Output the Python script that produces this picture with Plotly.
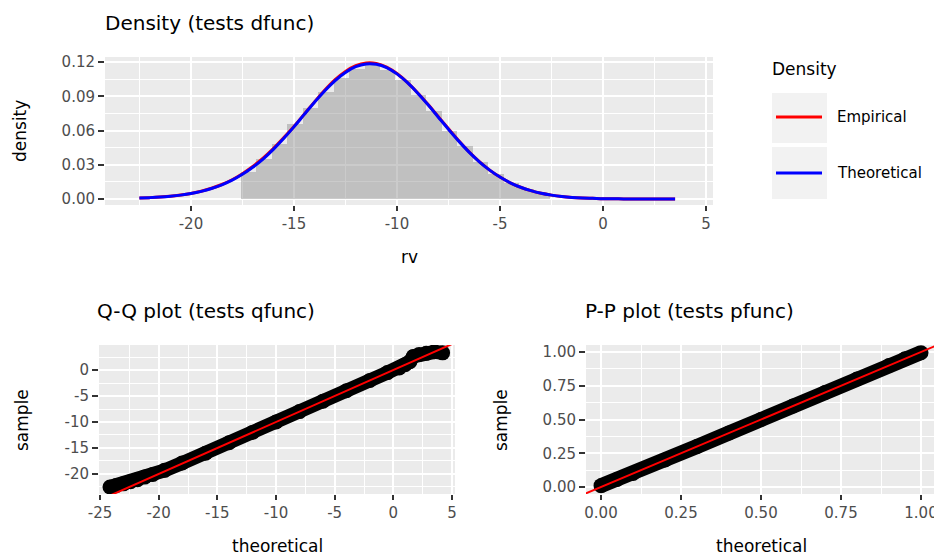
import plotly.graph_objects as go

# page body has an 8px margin: the figure is sized to fit the 942x560 window
OX, OY = 8, 8
W, H = 942 - OX, 560 - OY

# ---------------- data ----------------
# Density panel: curves sampled every 0.5 on rv
dens_x = [-22.5, -22.0, -21.5, -21.0, -20.5, -20.0, -19.5, -19.0, -18.5, -18.0,
          -17.5, -17.0, -16.5, -16.0, -15.5, -15.0, -14.5, -14.0, -13.5, -13.0,
          -12.5, -12.0, -11.5, -11.0, -10.5, -10.0, -9.5, -9.0, -8.5, -8.0,
          -7.5, -7.0, -6.5, -6.0, -5.5, -5.0, -4.5, -4.0, -3.5, -3.0,
          -2.5, -2.0, -1.5, -1.0, -0.5, 0.0, 0.5, 1.0, 1.5, 2.0, 2.5, 3.0, 3.5]
theoretical_density = [0.0008, 0.0012, 0.0017, 0.0024, 0.0034, 0.0048, 0.0067, 0.0092, 0.0124, 0.0165,
                       0.0216, 0.0278, 0.0350, 0.0435, 0.0530, 0.0632, 0.0741, 0.0848, 0.0949, 0.1038,
                       0.1109, 0.1159, 0.1183, 0.1180, 0.1151, 0.1096, 0.1021, 0.0929, 0.0827, 0.0719,
                       0.0611, 0.0507, 0.0411, 0.0326, 0.0253, 0.0192, 0.0142, 0.0103, 0.0073, 0.0050,
                       0.0034, 0.0022, 0.0014, 0.0009, 0.0006, 0.0003, 0.0002, 0.0001, 0.0001, 0.00005,
                       0.00003, 0.00002, 0.00001]
empirical_density = [0.0008, 0.0012, 0.0017, 0.0024, 0.0035, 0.0049, 0.0068, 0.0094, 0.0127, 0.0169,
                     0.0222, 0.0285, 0.0358, 0.0442, 0.0536, 0.0636, 0.0743, 0.0851, 0.0955, 0.1046,
                     0.1118, 0.1168, 0.1192, 0.1188, 0.1156, 0.1099, 0.1022, 0.0931, 0.0830, 0.0723,
                     0.0615, 0.0510, 0.0413, 0.0327, 0.0253, 0.0192, 0.0142, 0.0103, 0.0073, 0.0050,
                     0.0034, 0.0022, 0.0014, 0.0009, 0.0006, 0.0003, 0.0002, 0.0001, 0.0001, 0.00005,
                     0.00003, 0.00002, 0.00001]

# histogram bins (centres) and heights
hist_centres = [-17.2, -16.45, -15.7, -14.95, -14.2, -13.45, -12.7, -11.95, -11.2, -10.45,
                -9.7, -8.95, -8.2, -7.45, -6.7, -5.95, -5.2, -4.45, -3.7, -2.95]
hist_density = [0.024, 0.035, 0.048, 0.066, 0.080, 0.094, 0.106, 0.114, 0.117, 0.113,
                0.104, 0.091, 0.077, 0.060, 0.046, 0.032, 0.022, 0.014, 0.009, 0.005]
hist_binwidth = 0.75

# Q-Q panel
qq_theoretical = [-24.15, -23.6, -23.0, -22.4, -21.8, -21.2, -20.5, -19.5, -18.0, -16.0,
                  -14.0, -12.0, -10.0, -8.0, -6.0, -4.0, -2.0, -0.5, 0.5, 1.0,
                  1.4, 1.7, 2.2, 2.8, 3.5, 4.2]
qq_sample = [-22.5, -22.2, -21.9, -21.5, -21.1, -20.6, -20.1, -19.3, -17.9, -16.0,
             -14.0, -12.0, -10.0, -8.0, -6.0, -4.0, -2.0, -0.5, 0.4, 1.0,
             1.6, 2.6, 3.0, 3.2, 3.5, 3.3]

# P-P panel
pp_theoretical = [0.0, 0.05, 0.1, 0.2, 0.3, 0.4, 0.5, 0.6, 0.7, 0.8, 0.9, 0.95, 1.0]
pp_sample = [0.01, 0.055, 0.1, 0.2, 0.3, 0.4, 0.5, 0.6, 0.7, 0.8, 0.9, 0.95, 0.995]

# reference line y = x (endpoints beyond the panels, clipped by the axes)
ref_line_qq = [-30, 10]
ref_line_pp = [-0.2, 1.2]

# tick labels
top_xticks = [-20, -15, -10, -5, 0, 5]
top_xtext = ["-20", "-15", "-10", "-5", "0", "5"]
top_yticks = [0.0, 0.03, 0.06, 0.09, 0.12]
top_ytext = ["0.00", "0.03", "0.06", "0.09", "0.12"]
qq_xticks = [-25, -20, -15, -10, -5, 0, 5]
qq_xtext = ["-25", "-20", "-15", "-10", "-5", "0", "5"]
qq_yticks = [-20, -15, -10, -5, 0]
qq_ytext = ["-20", "-15", "-10", "-5", "0"]
pp_ticks = [0.0, 0.25, 0.5, 0.75, 1.0]
pp_text = ["0.00", "0.25", "0.50", "0.75", "1.00"]

# ---------------- helpers ----------------
FONT = "DejaVu Sans"


def px(x):
    return (x - OX) / W


def py(y):
    return 1 - (y - OY) / H


def axis(domain, rng, anchor, tickvals, ticktext, minor_vals, ticklen=5):
    return dict(
        domain=domain, range=rng, anchor=anchor, tickmode="array",
        tickvals=tickvals, ticktext=ticktext,
        showgrid=True, gridcolor="white", gridwidth=1.6,
        zeroline=False, showline=False, automargin=False,
        ticks="outside", ticklen=ticklen, tickwidth=1.5, tickcolor="#333333",
        tickfont=dict(family=FONT, size=15, color="#4d4d4d"),
        minor=dict(tickmode="array", tickvals=minor_vals, showgrid=True,
                   gridcolor="white", gridwidth=0.8, ticks=""),
        fixedrange=True,
    )


fig = go.Figure()

# --- density panel ---
fig.add_trace(go.Bar(x=hist_centres, y=hist_density, width=hist_binwidth,
                     marker=dict(color="rgba(140,140,140,0.45)", line=dict(width=0)),
                     xaxis="x", yaxis="y", showlegend=False, hoverinfo="skip"))
fig.add_trace(go.Scatter(x=dens_x, y=empirical_density, mode="lines", name="Empirical",
                         line=dict(color="#ff0000", width=3, shape="spline"),
                         xaxis="x", yaxis="y", showlegend=False))
fig.add_trace(go.Scatter(x=dens_x, y=theoretical_density, mode="lines", name="Theoretical",
                         line=dict(color="#0000ff", width=3, shape="spline"),
                         xaxis="x", yaxis="y", showlegend=False))

# --- Q-Q panel ---
fig.add_trace(go.Scatter(x=qq_theoretical, y=qq_sample, mode="lines+markers",
                         line=dict(color="black", width=14),
                         marker=dict(color="black", size=15),
                         xaxis="x2", yaxis="y2", showlegend=False))
fig.add_trace(go.Scatter(x=ref_line_qq, y=ref_line_qq, mode="lines",
                         line=dict(color="#ff0000", width=2),
                         xaxis="x2", yaxis="y2", showlegend=False))

# --- P-P panel ---
fig.add_trace(go.Scatter(x=pp_theoretical, y=pp_sample, mode="lines+markers",
                         line=dict(color="black", width=15),
                         marker=dict(color="black", size=15),
                         xaxis="x3", yaxis="y3", showlegend=False))
fig.add_trace(go.Scatter(x=ref_line_pp, y=ref_line_pp, mode="lines",
                         line=dict(color="#ff0000", width=2),
                         xaxis="x3", yaxis="y3", showlegend=False))

top_dom_x = [px(105), px(713)]
top_dom_y = [py(205), py(57)]
qq_dom_x = [px(99), px(455)]
pp_dom_x = [px(586), px(937)]
bot_dom_y = [py(494), py(345)]

layout = dict(
    width=W, height=H, autosize=False,
    margin=dict(l=0, r=0, t=0, b=0),
    paper_bgcolor="white", plot_bgcolor="#ebebeb",
    bargap=0, showlegend=False,
    font=dict(family=FONT, color="black"),
    xaxis=axis(top_dom_x, [-24.17, 5.34], "y", top_xticks, top_xtext,
               [-22.5, -17.5, -12.5, -7.5, -2.5, 2.5]),
    yaxis=axis(top_dom_y, [-0.00526, 0.1244], "x", top_yticks, top_ytext,
               [0.015, 0.045, 0.075, 0.105], ticklen=6),
    xaxis2=axis(qq_dom_x, [-25.085, 5.256], "y2", qq_xticks, qq_xtext,
                [-22.5, -17.5, -12.5, -7.5, -2.5, 2.5]),
    yaxis2=axis(bot_dom_y, [-23.85, 4.81], "x2", qq_yticks, qq_ytext,
                [-22.5, -17.5, -12.5, -7.5, -2.5, 2.5], ticklen=6),
    xaxis3=axis(pp_dom_x, [-0.0469, 1.05], "y3", pp_ticks, pp_text,
                [0.125, 0.375, 0.625, 0.875]),
    yaxis3=axis(bot_dom_y, [-0.0519, 1.0519], "x3", pp_ticks, pp_text,
                [0.125, 0.375, 0.625, 0.875], ticklen=6),
)
fig.update_layout(**layout)

ann = []


def text(x, y, s, size, xanchor="center", angle=0, color="black"):
    ann.append(dict(x=px(x), y=py(y), xref="paper", yref="paper", text=s,
                    showarrow=False, xanchor=xanchor, yanchor="middle",
                    textangle=angle, font=dict(family=FONT, size=size, color=color)))


# titles
text(103, 23, "Density (tests dfunc)", 20, xanchor="left")
text(95, 311, "Q-Q plot (tests qfunc)", 20, xanchor="left")
text(583, 311, "P-P plot (tests pfunc)", 20, xanchor="left")
# axis titles
text(409, 257, "rv", 17)
text(277, 546, "theoretical", 17)
text(761, 546, "theoretical", 17)
text(20, 131, "density", 17, angle=-90)
text(22, 420, "sample", 17, angle=-90)
text(501, 420, "sample", 17, angle=-90)
# legend
text(770, 69, "Density", 17, xanchor="left")
text(835, 117, "Empirical", 15, xanchor="left")
text(835, 173, "Theoretical", 15, xanchor="left")

shapes = [
    dict(type="rect", xref="paper", yref="paper", x0=px(772), x1=px(827), y0=py(143), y1=py(93),
         fillcolor="#f2f2f2", line=dict(width=0), layer="below"),
    dict(type="rect", xref="paper", yref="paper", x0=px(772), x1=px(827), y0=py(199), y1=py(147),
         fillcolor="#f2f2f2", line=dict(width=0), layer="below"),
    dict(type="line", xref="paper", yref="paper", x0=px(776), x1=px(822), y0=py(117), y1=py(117),
         line=dict(color="#ff0000", width=3)),
    dict(type="line", xref="paper", yref="paper", x0=px(776), x1=px(822), y0=py(173), y1=py(173),
         line=dict(color="#0000ff", width=3)),
]
fig.update_layout(annotations=ann, shapes=shapes)

fig.write_html("out.html")
